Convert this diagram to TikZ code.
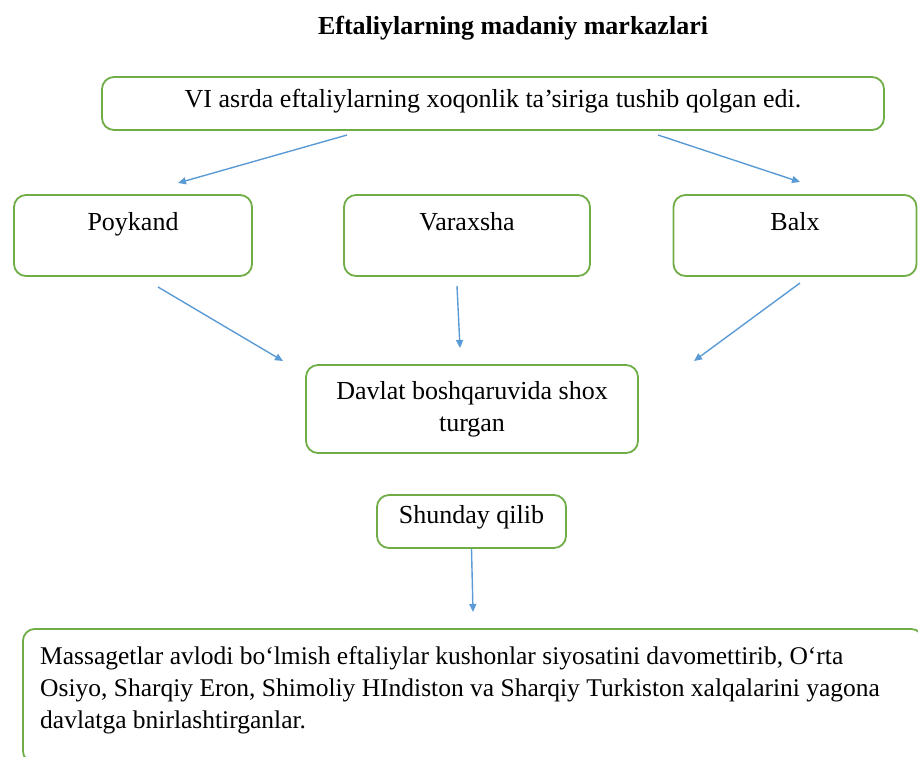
\documentclass[tikz,border=0pt]{standalone}
\usepackage{fontspec}
\setmainfont{Liberation Serif}
\usetikzlibrary{arrows.meta}
\definecolor{boxgreen}{RGB}{112,173,71}
\definecolor{arrblue}{RGB}{91,155,213}
\begin{document}
\begin{tikzpicture}[x=1pt,y=-1pt,
  box/.style={draw=boxgreen,line width=1.8pt,rounded corners=12pt,fill=white,inner sep=0pt,font=\fontsize{26}{32}\selectfont},
  conn/.style={draw=arrblue,line width=1.4pt,-{Triangle[length=8pt,width=7pt]}}]
\useasboundingbox (0,0) rectangle (918,756);
\begin{scope}
\clip (0,0) rectangle (918,756);
\node[font=\bfseries\fontsize{26}{30}\selectfont] (title) at (513,28) {Eftaliylarning madaniy markazlari};
\node[box,minimum width=782pt,minimum height=53pt,text height=18pt,text depth=11pt] (top) at (493,103.5) {VI asrda eftaliylarning xoqonlik ta’siriga tushib qolgan edi.};
\node[box,minimum width=238pt,minimum height=81pt,text height=20pt,text depth=30pt] (poy) at (133,235.5) {Poykand};
\node[box,minimum width=246pt,minimum height=81pt,text height=20pt,text depth=30pt] (var) at (467,235.5) {Varaxsha};
\node[box,minimum width=243pt,minimum height=81pt,text height=20pt,text depth=30pt] (balx) at (795,235.5) {Balx};
\node[box,minimum width=332pt,minimum height=88pt,align=center] (dav) at (472,409) {Davlat boshqaruvida shox\\turgan};
\node[box,minimum width=189pt,minimum height=53pt,text height=18pt,text depth=15pt] (shu) at (471.5,521.5) {Shunday qilib};
\node[box,minimum width=900pt,minimum height=134pt,anchor=north west] (bot) at (22,628) {};
\node[font=\fontsize{25.5}{32}\selectfont,anchor=north west,align=left,inner sep=0pt] (bottxt) at (40,646) {Massagetlar avlodi bo‘lmish eftaliylar kushonlar siyosatini davomettirib, O‘rta\\Osiyo, Sharqiy Eron, Shimoliy HIndiston va Sharqiy Turkiston xalqalarini yagona\\davlatga bnirlashtirganlar.};
\coordinate (t1) at (347,135);
\coordinate (t2) at (658,135);
\coordinate (p1) at (158,287);
\coordinate (v1) at (457,286);
\coordinate (b1) at (800,283);
\coordinate (pe) at (283,361);
\coordinate (ve) at (460,348);
\coordinate (be) at (694,361);
\coordinate (pt) at (178,183);
\coordinate (bt) at (800,182);
\coordinate (se) at (473,612);
\draw[conn] (t1) -- (pt);
\draw[conn] (t2) -- (bt);
\draw[conn] (p1) -- (pe);
\draw[conn] (v1) -- (ve);
\draw[conn] (b1) -- (be);
\draw[conn] (shu.south) -- (se);
\end{scope}
\end{tikzpicture}
\end{document}
